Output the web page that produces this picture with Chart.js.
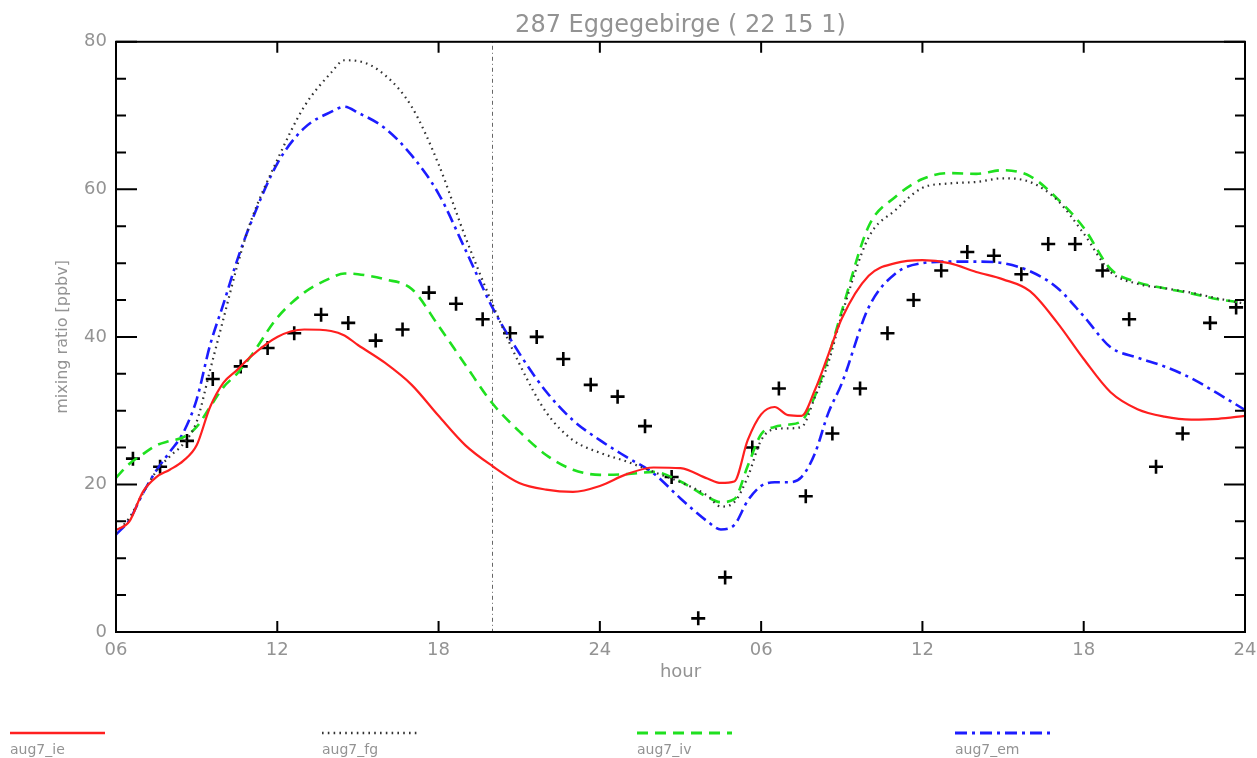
<!DOCTYPE html>
<html>
<head>
<meta charset="utf-8">
<script src="https://cdn.jsdelivr.net/npm/chart.js@4.4.1/dist/chart.umd.min.js"></script>
<style>
  html, body { margin: 0; padding: 0; background: #fff; }
  #wrap { width: 1257px; height: 758px; position: relative; }
</style>
</head>
<body>
<div id="wrap"><canvas id="c" width="1257" height="758"></canvas></div>
<script>
// ---------------- data ----------------
const chartTitle = '287 Eggegebirge ( 22 15 1)';
const xTitle = 'hour';
const yTitle = 'mixing ratio [ppbv]';
const xTickValues = [6, 12, 18, 24, 30, 36, 42, 48];
const xTickLabels = ['06', '12', '18', '24', '06', '12', '18', '24'];
const yTickLabels = [0, 20, 40, 60, 80];
const markerHour = 20;

const seriesNames = ['aug7_ie', 'aug7_fg', 'aug7_iv', 'aug7_em'];

const hours = [6, 6.5, 7, 7.5, 8, 8.5, 9, 9.5, 10, 10.5, 11, 12, 13, 14, 14.5, 15, 16, 17, 18, 19,
  20, 21, 22, 23, 24, 25, 26, 27, 28, 28.5, 29, 29.5, 30, 30.5, 31, 31.5, 32, 32.5, 33, 34,
  35, 36, 37, 38, 39, 40, 41, 42, 43, 44, 45, 46, 47, 48];

const ieValues = [13.8, 15.0, 19.0, 21.0, 22.0, 23.2, 25.3, 30.5, 33.8, 35.5, 37.3, 40.0, 41.0, 40.8, 40.2, 38.9, 36.5, 33.5, 29.3, 25.3,
  22.5, 20.2, 19.3, 19.0, 19.8, 21.4, 22.3, 22.2, 20.8, 20.2, 20.4, 26.0, 29.5, 30.5, 29.4, 29.3, 32.8, 37.6, 42.5, 48.3,
  50.0, 50.4, 50.0, 48.8, 47.8, 46.2, 42.0, 37.0, 32.5, 30.2, 29.2, 28.8, 28.9, 29.3];

const fgValues = [13.4, 15.5, 18.8, 21.8, 23.8, 25.5, 28.5, 35.5, 42.5, 49.5, 55.5, 64.0, 71.2, 75.8, 77.5, 77.4, 75.5, 71.2, 63.4, 53.5,
  44.5, 36.4, 29.8, 26.0, 24.3, 23.1, 21.7, 20.3, 18.5, 17.0, 17.6, 21.0, 26.0, 27.5, 27.6, 27.8, 31.8, 36.5, 43.0, 53.5,
  57.2, 60.2, 60.8, 61.0, 61.5, 61.0, 58.6, 54.0, 48.8, 47.2, 46.6, 46.0, 45.2, 44.5];

const ivValues = [20.9, 22.8, 24.1, 25.3, 25.9, 26.4, 27.8, 30.5, 33.2, 35.0, 37.3, 42.6, 46.0, 48.0, 48.6, 48.5, 47.8, 46.5, 41.5, 36.2,
  31.0, 27.2, 24.0, 22.0, 21.3, 21.4, 21.7, 20.4, 18.3, 17.6, 18.0, 22.5, 26.8, 27.8, 28.1, 28.6, 32.0, 37.3, 43.5, 55.0,
  59.0, 61.4, 62.2, 62.1, 62.6, 61.8, 58.8, 54.8, 49.2, 47.4, 46.6, 45.9, 45.1, 44.6];

const emValues = [13.2, 15.2, 18.8, 21.9, 24.4, 27.0, 31.5, 38.9, 44.5, 50.3, 55.3, 63.5, 68.3, 70.5, 71.2, 70.4, 68.3, 64.6, 59.4, 51.8,
  44.0, 37.8, 32.6, 28.7, 26.0, 23.7, 21.5, 18.1, 15.0, 13.9, 14.5, 17.8, 19.8, 20.3, 20.3, 21.0, 24.2, 29.7, 33.7, 44.0,
  48.6, 50.0, 50.2, 50.2, 50.0, 48.9, 46.7, 42.8, 38.6, 37.2, 36.0, 34.4, 32.3, 30.1];

const obsHours = [6.63, 7.64, 8.64, 9.6, 10.64, 11.64, 12.63, 13.63, 14.64, 15.66, 16.66, 17.64, 18.65, 19.64,
  20.66, 21.65, 22.64, 23.66, 24.66, 25.68, 26.67, 27.66, 28.66, 29.67, 30.66, 31.66, 32.65, 33.68,
  34.7, 35.67, 36.7, 37.67, 38.66, 39.68, 40.68, 41.68, 42.7, 43.69, 44.69, 45.68, 46.7, 47.67];
const obsValues = [23.5, 22.4, 25.9, 34.3, 36.0, 38.5, 40.5, 43.0, 41.9, 39.5, 41.0, 46.0, 44.5, 42.4,
  40.5, 40.0, 37.0, 33.5, 31.9, 27.9, 21.0, 1.85, 7.4, 25.0, 33.0, 18.4, 26.9, 33.0,
  40.5, 45.0, 49.0, 51.5, 51.0, 48.5, 52.6, 52.6, 49.0, 42.4, 22.4, 26.9, 41.9, 44.0];

// ---------------- build ----------------
const toXY = (xs, ys) => xs.map((x, i) => ({ x: x, y: ys[i] }));
const FONT = '"DejaVu Sans", sans-serif';
const GREY = '#939393';

const lineBase = { pointRadius: 0, pointHoverRadius: 0, fill: false, cubicInterpolationMode: 'monotone', tension: 0.4 };

const datasets = [
  Object.assign({ label: seriesNames[0], data: toXY(hours, ieValues), borderColor: '#ff1f1f', borderWidth: 2.2, borderDash: [] }, lineBase),
  Object.assign({ label: seriesNames[1], data: toXY(hours, fgValues), borderColor: '#333333', borderWidth: 2.2, borderDash: [1.6, 4.2] }, lineBase),
  Object.assign({ label: seriesNames[2], data: toXY(hours, ivValues), borderColor: '#1fe01f', borderWidth: 2.6, borderDash: [11, 7] }, lineBase),
  Object.assign({ label: seriesNames[3], data: toXY(hours, emValues), borderColor: '#1c1cff', borderWidth: 2.6, borderDash: [12, 5, 3, 5] }, lineBase),
  { label: 'obs', data: toXY(obsHours, obsValues), showLine: false, pointStyle: 'cross', pointRadius: 7, pointHoverRadius: 7,
    pointBorderWidth: 2.6, borderColor: '#000', backgroundColor: '#000', isObs: true }
];

const frameTicks = {
  id: 'frameTicks',
  afterDraw(chart) {
    const { ctx, chartArea: a, scales: { x, y } } = chart;
    ctx.save();
    ctx.strokeStyle = '#000';
    ctx.lineWidth = 2;
    ctx.strokeRect(a.left, a.top, a.right - a.left, a.bottom - a.top);
    ctx.beginPath();
    y.ticks.forEach(t => {
      const py = y.getPixelForValue(t.value);
      const len = yTickLabels.includes(t.value) ? 21 : 10;
      ctx.moveTo(a.left, py); ctx.lineTo(a.left + len, py);
      ctx.moveTo(a.right, py); ctx.lineTo(a.right - len, py);
    });
    x.ticks.forEach(t => {
      const px = x.getPixelForValue(t.value);
      ctx.moveTo(px, a.bottom); ctx.lineTo(px, a.bottom - 11);
      ctx.moveTo(px, a.top); ctx.lineTo(px, a.top + 11);
    });
    ctx.stroke();
    ctx.restore();
  }
};

const marker = {
  id: 'marker',
  beforeDatasetsDraw(chart) {
    const { ctx, chartArea: a, scales: { x } } = chart;
    const px = Math.round(x.getPixelForValue(markerHour)) + 0.5;
    ctx.save();
    ctx.strokeStyle = '#666';
    ctx.lineWidth = 1;
    ctx.setLineDash([1, 3, 4, 3]);
    ctx.beginPath();
    ctx.moveTo(px, a.top);
    ctx.lineTo(px, a.bottom);
    ctx.stroke();
    ctx.restore();
  }
};

const bottomLegend = {
  id: 'bottomLegend',
  afterDraw(chart) {
    const { ctx } = chart;
    const xs = [10, 322, 637, 955];
    const lineY = 733, textY = 750, len = 95;
    ctx.save();
    chart.data.datasets.filter(d => !d.isObs).forEach((d, i) => {
      ctx.strokeStyle = d.borderColor;
      ctx.lineWidth = d.borderWidth + 0.4;
      ctx.setLineDash(d.borderDash || []);
      ctx.beginPath();
      ctx.moveTo(xs[i], lineY);
      ctx.lineTo(xs[i] + len, lineY);
      ctx.stroke();
      ctx.setLineDash([]);
      ctx.fillStyle = GREY;
      ctx.font = '14px ' + FONT;
      ctx.textBaseline = 'middle';
      ctx.textAlign = 'left';
      ctx.fillText(d.label, xs[i], textY);
    });
    ctx.restore();
  }
};

new Chart(document.getElementById('c'), {
  type: 'line',
  data: { datasets: datasets },
  options: {
    responsive: false,
    animation: false,
    events: [],
    layout: { padding: { left: 0, right: 12, top: 0, bottom: 73 } },
    plugins: {
      legend: { display: false },
      tooltip: { enabled: false },
      title: {
        display: true, text: chartTitle, fullSize: false, color: GREY,
        font: { family: FONT, size: 24, weight: 'normal', lineHeight: 1.2 },
        padding: { top: 11, bottom: 2 }
      }
    },
    scales: {
      x: {
        type: 'linear', min: 6, max: 48,
        afterBuildTicks: s => { s.ticks = xTickValues.map(v => ({ value: v })); },
        afterFit: s => { s.height = 53; s.paddingRight = 0; s.paddingLeft = 0; },
        grid: { display: false, drawTicks: false },
        border: { display: false },
        ticks: {
          autoSkip: false, maxRotation: 0, padding: 8, color: GREY,
          font: { family: FONT, size: 18 },
          callback: v => xTickLabels[xTickValues.indexOf(v)]
        },
        title: { display: true, text: xTitle, color: GREY, font: { family: FONT, size: 18 }, padding: { top: 0, bottom: 2 } }
      },
      y: {
        type: 'linear', min: 0, max: 80,
        afterFit: s => { s.width = 116; },
        grid: { display: false, drawTicks: false },
        border: { display: false },
        ticks: {
          stepSize: 5, autoSkip: false, padding: 9, color: GREY,
          font: { family: FONT, size: 18 },
          callback: v => yTickLabels.includes(v) ? String(v) : ''
        },
        title: { display: true, text: yTitle, color: GREY, font: { family: FONT, size: 16 }, padding: { top: 53, bottom: 0 } }
      }
    }
  },
  plugins: [marker, frameTicks, bottomLegend]
});
</script>
</body>
</html>
